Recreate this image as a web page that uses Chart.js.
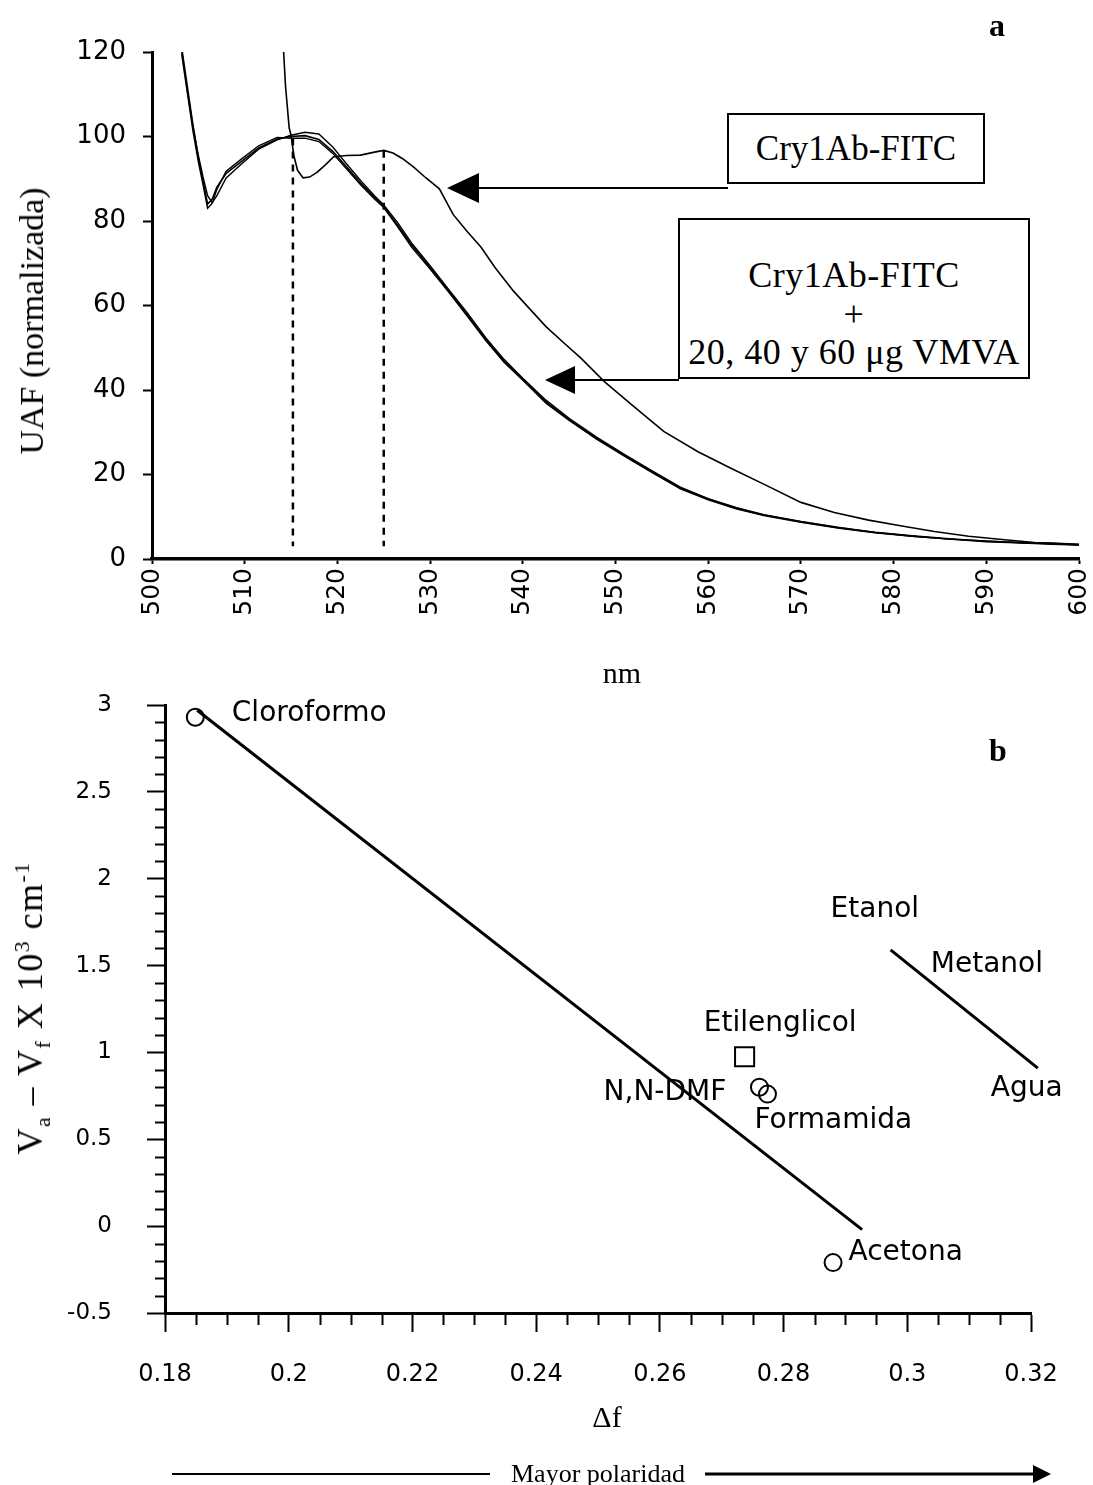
<!DOCTYPE html>
<html>
<head>
<meta charset="utf-8">
<script src="https://cdn.jsdelivr.net/npm/chart.js@4.4.1/dist/chart.umd.min.js"></script>
<style>
html,body{margin:0;padding:0;background:#fff;}
#page{position:relative;width:1093px;height:1485px;overflow:hidden;background:#fff;}
#c1wrap{position:absolute;left:0;top:0;width:1093px;height:700px;}
#c2wrap{position:absolute;left:0;top:690px;width:1093px;height:795px;}
.t{position:absolute;white-space:nowrap;color:#000;font-family:'Liberation Serif','Times New Roman',serif;line-height:1;}
.rot{transform:translate(-50%,-50%) rotate(-90deg);}
.ctr{transform:translate(-50%,-50%);}
.box{position:absolute;border:2px solid #000;box-sizing:border-box;background:#fff;text-align:center;color:#000;font-family:'Liberation Serif','Times New Roman',serif;white-space:nowrap;}
sub,sup{font-size:60%;line-height:0;}
svg{position:absolute;left:0;top:0;}
</style>
</head>
<body>
<div id="page">
  <div id="c1wrap"><canvas id="c1"></canvas></div>
  <div id="c2wrap"><canvas id="c2"></canvas></div>

  <div class="t rot" style="left:32px;top:321px;font-size:34px;">UAF (normalizada)</div>
  <div class="t ctr" style="left:622px;top:673px;font-size:30px;">nm</div>
  <div class="t ctr" style="left:997px;top:25px;font-size:32px;font-weight:bold;">a</div>
  <div class="t ctr" style="left:998px;top:750px;font-size:32px;font-weight:bold;">b</div>

  <div class="box" style="left:727px;top:113px;width:258px;height:71px;font-size:35px;line-height:67px;">Cry1Ab-FITC</div>
  <div class="box" style="left:678px;top:218px;width:352px;height:161px;font-size:36px;line-height:38.5px;padding-top:36px;letter-spacing:0.5px;">Cry1Ab-FITC<br>+<br>20, 40 y 60 &mu;g VMVA</div>

  <div class="t rot" style="left:30px;top:1008px;font-size:36px;letter-spacing:1.5px;">V<sub>a</sub> &ndash; V<sub>f</sub> X 10<sup>3</sup> cm<sup>-1</sup></div>
  <div class="t ctr" style="left:607px;top:1417px;font-size:30px;">&Delta;f</div>
  <div class="t ctr" style="left:598px;top:1474px;font-size:26px;">Mayor polaridad</div>

  <svg width="1093" height="1485" viewBox="0 0 1093 1485">
    <line x1="476" y1="188" x2="728" y2="188" stroke="#000" stroke-width="2"/>
    <polygon points="447,188 479,173 479,203" fill="#000"/>
    <line x1="572" y1="380" x2="679" y2="380" stroke="#000" stroke-width="2"/>
    <polygon points="545,380 575,366 575,394" fill="#000"/>
    <line x1="172" y1="1474" x2="490" y2="1474" stroke="#000" stroke-width="2"/>
    <line x1="705" y1="1474" x2="1036" y2="1474" stroke="#000" stroke-width="3"/>
    <polygon points="1051,1474 1033,1465 1033,1483" fill="#000"/>
  </svg>
</div>

<script>
// ---------- Panel a: fluorescence spectra ----------
const vmvaNm = [503.2,503.8,504.4,505.0,505.5,506.0,506.5,507.0,508.0,509.5,
  511.5,513.5,515.0,516.5,518.0,519.5,521.0,522.5,524.0,525.0,
  526.5,528.0,530.0,532.0,534.0,536.0,538.0,540.0,542.5,545.0,
  548.0,551.0,554.0,557.0,560.0,563.0,566.0,570.0,574.0,578.0,
  582.0,586.0,590.0,594.0,597.0,600.0];
const vmva20 = [121,112,103,95,89.5,84,85.2,88,91.3,93.8,
  97.3,99.4,100,100.2,99.3,96.5,92.8,89,85.6,83.5,
  79,74.3,69,63.5,57.8,52,46.8,42.6,37.2,33,
  28.5,24.5,20.6,16.8,14.2,12,10.4,8.8,7.4,6.3,
  5.5,4.8,4.2,3.9,3.6,3.4];
const vmva40 = [120.5,111,102.5,95.5,90.5,86,84.3,86,90.2,93.2,
  97,99.2,100.3,101,100.6,97.5,93.5,89.6,86,83.8,
  79.6,74.8,69.4,63.8,58.3,52.4,47.2,42.8,37.6,33.3,
  28.8,24.7,20.8,17,14.3,12.2,10.5,8.9,7.5,6.3,
  5.4,4.7,4.1,3.8,3.5,3.3];
const vmva60 = [119.5,110.5,101.5,94,88.6,83,84.2,87.5,91.8,94.4,
  97.8,99.8,99.6,99.6,98.8,96,92.3,88.6,85.2,83.2,
  78.6,73.8,68.6,63.2,57.5,51.7,46.5,42.3,36.9,32.8,
  28.3,24.3,20.4,16.6,14,11.9,10.3,8.7,7.3,6.2,
  5.4,4.7,4.3,3.8,3.8,3.5];
const fitcNm = [514.0,514.4,514.8,515.0,515.3,515.7,516.3,517.0,517.8,518.7,
  519.6,521.0,522.5,524.0,525.0,526.0,527.0,528.2,529.5,531.0,
  532.5,534.0,535.5,537.0,539.0,540.5,542.5,544.5,546.3,548.8,
  551.7,555.2,558.9,562.5,566.1,570.0,573.6,577.3,580.9,584.4,
  588.1,591.7,595.2,598.0,600.0];
const fitcUaf = [128,112,102,100.3,95.5,92,90.2,90.4,91.5,93.3,
  95.2,95.5,95.6,96.3,96.7,96.1,94.8,92.8,90.3,87.6,
  81.5,77.5,73.8,69,63.4,59.8,55,51,47.5,42,
  36.6,30.2,25.4,21.4,17.6,13.4,11,9.2,7.8,6.5,
  5.4,4.6,3.9,3.6,3.3];
const peakNm = [515.2, 525.0];
const peakTop = [99.5, 96.6];
const peakBottom = [3, 3];
const topXTicks = ['500','510','520','530','540','550','560','570','580','590','600'];
const topYTicks = ['0','20','40','60','80','100','120'];

// ---------- Panel b: Lippert plot ----------
const solventCircleDf = [0.1849, 0.2761, 0.2774, 0.2880];
const solventCircleShift = [2.93, 0.80, 0.76, -0.21];
const solventSquareDf = [0.2737];
const solventSquareShift = [0.975];
const fitLineDf = [0.1852, 0.2927];
const fitLineShift = [2.97, -0.02];
const alcoholLineDf = [0.2973, 0.3211];
const alcoholLineShift = [1.59, 0.91];
const solventNames = ['Cloroformo','Etanol','Metanol','Etilenglicol','N,N-DMF','Formamida','Agua','Acetona'];
const nameDf = [0.1908, 0.2876, 0.3038, 0.2671, 0.2509, 0.2753, 0.3135, 0.2905];
const nameShift = [2.948, 1.82, 1.504, 1.165, 0.77, 0.606, 0.791, -0.153];
const botXTicks = ['0.18','0.2','0.22','0.24','0.26','0.28','0.3','0.32'];
const botYTicks = ['-0.5','0','0.5','1','1.5','2','2.5','3'];

const pts = (xs, ys) => xs.map((x, i) => ({x: x, y: ys[i]}));

// ---------- Chart a ----------
const dsA = [
  {data: pts(fitcNm, fitcUaf), borderColor:'#000', borderWidth:1.6},
  {data: pts(vmvaNm, vmva20), borderColor:'#000', borderWidth:1.6},
  {data: pts(vmvaNm, vmva40), borderColor:'#000', borderWidth:1.4},
  {data: pts(vmvaNm, vmva60), borderColor:'#000', borderWidth:1.4}
];
peakNm.forEach((p, i) => {
  dsA.push({data: [{x:p, y:peakTop[i]}, {x:p, y:peakBottom[i]}], borderColor:'#000', borderWidth:2.5, borderDash:[7,6]});
});
dsA.forEach(d => { d.showLine = true; d.pointRadius = 0; d.tension = 0; d.fill = false; });

new Chart(document.getElementById('c1'), {
  type: 'scatter',
  data: {datasets: dsA},
  options: {
    responsive: true, maintainAspectRatio: false, animation: false,
    layout: {autoPadding: false, padding: {left: 0, top: 52, right: 14, bottom: 0}},
    plugins: {legend: {display: false}, tooltip: {enabled: false}},
    scales: {
      x: {
        type: 'linear', min: 500, max: 600,
        afterFit: s => { s.height = 141; s.paddingLeft = 5; s.paddingRight = 5; },
        ticks: {stepSize: 10, maxRotation: 90, minRotation: 90, padding: 4, color: '#000',
          font: {family: 'DejaVu Sans', size: 25},
          callback: (v) => { const i = Math.round((v - 500) / 10); return topXTicks[i]; }},
        grid: {display: true, drawOnChartArea: false, drawTicks: true, tickLength: 5, tickWidth: 2, tickColor: '#000'},
        border: {display: true, color: '#000', width: 3.5}
      },
      y: {
        type: 'linear', min: 0, max: 120,
        afterFit: s => { s.width = 152; s.paddingTop = 5; s.paddingBottom = 5; },
        ticks: {stepSize: 20, padding: 17, color: '#000',
          font: {family: 'DejaVu Sans', size: 26},
          callback: (v) => topYTicks[Math.round(v / 20)]},
        grid: {display: true, drawOnChartArea: false, drawTicks: true, tickLength: 9, tickWidth: 2, tickColor: '#000'},
        border: {display: true, color: '#000', width: 3}
      }
    }
  }
});

// ---------- Chart b ----------
const minorTicks = {
  id: 'minorTicks',
  afterDraw(chart) {
    const ctx = chart.ctx, xs = chart.scales.x, ys = chart.scales.y;
    ctx.save();
    ctx.strokeStyle = '#000'; ctx.lineWidth = 2;
    for (let k = -5; k <= 30; k++) {
      if (k % 5 === 0) continue;
      const py = Math.round(ys.getPixelForValue(k / 10)) + 0.5;
      ctx.beginPath(); ctx.moveTo(xs.left - 10, py); ctx.lineTo(xs.left, py); ctx.stroke();
    }
    for (let k = 36; k <= 64; k++) {
      if (k % 4 === 0) continue;
      const px = Math.round(xs.getPixelForValue(k * 0.005)) + 0.5;
      ctx.beginPath(); ctx.moveTo(px, ys.bottom); ctx.lineTo(px, ys.bottom + 12); ctx.stroke();
    }
    ctx.restore();
  }
};
const nameLabels = {
  id: 'nameLabels',
  afterDatasetsDraw(chart) {
    const ctx = chart.ctx, xs = chart.scales.x, ys = chart.scales.y;
    ctx.save();
    ctx.fillStyle = '#000';
    ctx.font = '28px "DejaVu Sans"';
    ctx.textAlign = 'left'; ctx.textBaseline = 'middle';
    solventNames.forEach((n, i) => {
      ctx.fillText(n, xs.getPixelForValue(nameDf[i]), ys.getPixelForValue(nameShift[i]));
    });
    ctx.restore();
  }
};

new Chart(document.getElementById('c2'), {
  type: 'scatter',
  data: {datasets: [
    {data: pts(fitLineDf, fitLineShift), showLine: true, pointRadius: 0, borderColor: '#000', borderWidth: 3},
    {data: pts(alcoholLineDf, alcoholLineShift), showLine: true, pointRadius: 0, borderColor: '#000', borderWidth: 3, clip: false},
    {data: pts(solventCircleDf, solventCircleShift), showLine: false, pointStyle: 'circle', pointRadius: 8.5,
      pointBorderWidth: 2, pointBorderColor: '#000', pointBackgroundColor: 'rgba(255,255,255,0)', clip: false},
    {data: pts(solventSquareDf, solventSquareShift), showLine: false, pointStyle: 'rect', pointRadius: 13.5,
      pointBorderWidth: 2, pointBorderColor: '#000', pointBackgroundColor: 'rgba(255,255,255,0)'}
  ]},
  options: {
    responsive: true, maintainAspectRatio: false, animation: false,
    layout: {autoPadding: false, padding: {left: 0, top: 15, right: 62, bottom: 0}},
    plugins: {legend: {display: false}, tooltip: {enabled: false}},
    scales: {
      x: {
        type: 'linear', min: 0.18, max: 0.32,
        afterFit: s => { s.height = 172; s.paddingLeft = 5; s.paddingRight = 5; },
        afterBuildTicks: s => { s.ticks = botXTicks.map(t => ({value: parseFloat(t)})); },
        ticks: {padding: 28, maxRotation: 0, minRotation: 0, color: '#000',
          font: {family: 'DejaVu Sans', size: 24},
          callback: (v) => botXTicks[Math.round((v - 0.18) / 0.02)]},
        grid: {display: true, drawOnChartArea: false, drawTicks: true, tickLength: 19, tickWidth: 2, tickColor: '#000'},
        border: {display: true, color: '#000', width: 3}
      },
      y: {
        type: 'linear', min: -0.5, max: 3,
        afterFit: s => { s.width = 165; s.paddingTop = 5; s.paddingBottom = 5; },
        afterBuildTicks: s => { s.ticks = botYTicks.map(t => ({value: parseFloat(t)})); },
        ticks: {padding: 35, color: '#000',
          font: {family: 'DejaVu Sans', size: 23},
          callback: (v) => botYTicks[Math.round((v + 0.5) / 0.5)]},
        grid: {display: true, drawOnChartArea: false, drawTicks: true, tickLength: 18, tickWidth: 2, tickColor: '#000'},
        border: {display: true, color: '#000', width: 3}
      }
    }
  },
  plugins: [minorTicks, nameLabels]
});
</script>
</body>
</html>
